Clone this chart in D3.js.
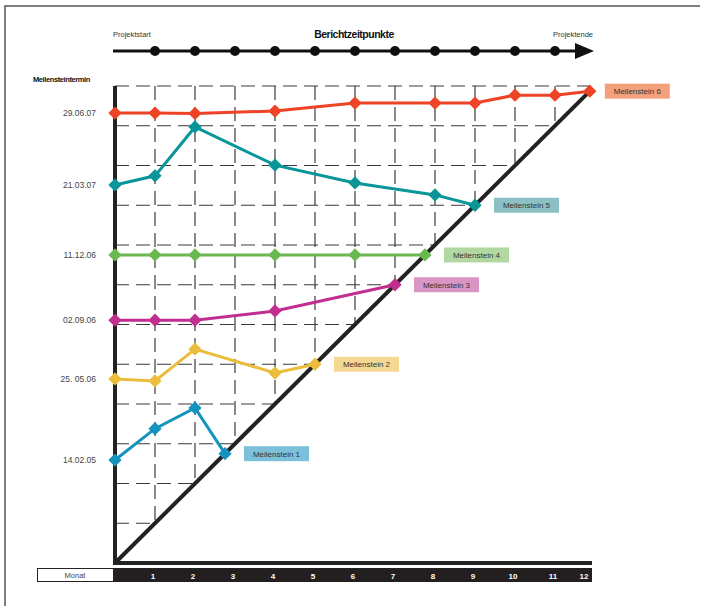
<html>
<head>
<meta charset="utf-8">
<script src="https://d3js.org/d3.v7.min.js"></script>
<style>
body { margin: 0; background: #fff; }
text { font-family: "Liberation Sans", Arial, sans-serif; }
</style>
</head>
<body>
<svg width="704" height="606"></svg>
<script>
// months / Berichtzeitpunkte
var months = [1,2,3,4,5,6,7,8,9,10,11,12];
var reportPoints = [1,2,3,4,5,6,7,8,9,10,11];
// Meilensteintermin tick labels (in grid units)
var yLabels = ["14.02.05","25. 05.06","02.09.06","11.12.06","21.03.07","29.06.07"];
var yLabelValues = [2.59, 4.63, 6.11, 7.75, 9.51, 11.32];

var names = ["Meilenstein 1","Meilenstein 2","Meilenstein 3","Meilenstein 4","Meilenstein 5","Meilenstein 6"];
var ms1Months = [0,1,2,2.75];
var ms1Values = [2.59,3.38,3.9,2.75];
var ms2Months = [0,1,2,4,5];
var ms2Values = [4.63,4.58,5.38,4.78,5.0];
var ms3Months = [0,1,2,4,7];
var ms3Values = [6.11,6.11,6.11,6.34,7.0];
var ms4Months = [0,1,2,4,6,7.75];
var ms4Values = [7.75,7.75,7.75,7.75,7.75,7.75];
var ms5Months = [0,1,2,4,6,8,9];
var ms5Values = [9.51,9.74,10.97,10.01,9.56,9.26,9.0];
var ms6Months = [0,1,2,4,6,8,9,10,11,11.87];
var ms6Values = [11.32,11.32,11.31,11.37,11.57,11.57,11.57,11.77,11.77,11.87];

var lineColors = ["#1494bc","#ebbd3a","#c22e90","#6ab84e","#0a9598","#ee4324"];
var boxColors = ["#7dc0d9","#f5d993","#d996c5","#b2d8a2","#8bc1c4","#f4a07c"];

var seriesMonths = [ms1Months,ms2Months,ms3Months,ms4Months,ms5Months,ms6Months];
var seriesValues = [ms1Values,ms2Values,ms3Values,ms4Values,ms5Values,ms6Values];
var series = names.map(function(n,i){
  return {name:n, pts: seriesMonths[i].map(function(m,j){ return {m:m, v:seriesValues[i][j]}; })};
});

var svg = d3.select("svg");
var x = d3.scaleLinear().domain([0,12]).range([115,595]);
var y = d3.scaleLinear().domain([0,12]).range([563,86]);
var endLevel = 11.87;

// frame (top + left)
svg.append("path").attr("d","M5,606 L5,6 L700,6").attr("fill","none")
   .attr("stroke","#555").attr("stroke-width",1.5);

// header
svg.append("text").attr("x",113).attr("y",37).attr("font-size",7.5).attr("fill","#333").text("Projektstart");
svg.append("text").attr("x",593).attr("y",37).attr("text-anchor","end").attr("font-size",7.5).attr("fill","#333").text("Projektende");
svg.append("text").attr("x",354).attr("y",38).attr("text-anchor","middle").attr("font-size",10.5)
   .attr("font-weight","bold").attr("letter-spacing",-0.5).attr("fill","#111").text("Berichtzeitpunkte");
svg.append("line").attr("x1",113).attr("x2",578).attr("y1",51).attr("y2",51).attr("stroke","#111").attr("stroke-width",3);
svg.append("path").attr("d","M575,43 L594,51 L575,59 Z").attr("fill","#111");
svg.selectAll(".rp").data(reportPoints).enter().append("circle")
   .attr("cx",function(d){return x(d);}).attr("cy",51).attr("r",5).attr("fill","#111");

svg.append("text").attr("x",33).attr("y",82).attr("font-size",7.5).attr("font-weight","bold")
   .attr("letter-spacing",-0.4).attr("fill","#111").text("Meilensteintermin");

// dashed grid in upper-left triangle
var grid = svg.append("g").attr("stroke","#3a3a3a").attr("stroke-width",1.2).attr("stroke-dasharray","14,7").attr("fill","none");
d3.range(1,12).forEach(function(k){
  grid.append("line").attr("x1",x(k)).attr("x2",x(k)).attr("y1",y(12)).attr("y2",y(k));
  grid.append("line").attr("x1",x(0)).attr("x2",x(k)).attr("y1",y(k)).attr("y2",y(k));
});
grid.append("line").attr("x1",x(0)).attr("x2",x(endLevel)).attr("y1",y(12)).attr("y2",y(12));

// axes
svg.append("line").attr("x1",x(0)).attr("x2",x(0)).attr("y1",y(12)).attr("y2",y(0)+2).attr("stroke","#222").attr("stroke-width",4);
svg.append("line").attr("x1",x(0)-2).attr("x2",592).attr("y1",y(0)).attr("y2",y(0)).attr("stroke","#222").attr("stroke-width",4);
svg.append("line").attr("x1",x(0)).attr("y1",y(0)).attr("x2",x(endLevel)).attr("y2",y(endLevel))
   .attr("stroke","#222").attr("stroke-width",4);

// y labels
svg.selectAll(".yl").data(yLabelValues).enter().append("text")
   .attr("x",96).attr("y",function(d){return y(d)+3;}).attr("text-anchor","end")
   .attr("font-size",8.5).attr("fill","#444").text(function(d,i){return yLabels[i];});

// series
var line = d3.line().x(function(d){return x(d.m);}).y(function(d){return y(d.v);});
var diamond = d3.symbol().type(d3.symbolSquare).size(88);
series.forEach(function(s,i){
  var g = svg.append("g");
  g.append("path").datum(s.pts).attr("d",line).attr("fill","none").attr("stroke",lineColors[i]).attr("stroke-width",3);
  g.selectAll("path.pt").data(s.pts).enter().append("path").attr("class","pt")
   .attr("d",diamond).attr("fill",lineColors[i])
   .attr("transform",function(d){return "translate("+x(d.m)+","+y(d.v)+") rotate(45)";});
  var last = s.pts[s.pts.length-1];
  var bx = x(last.m) + (i==5 ? 15 : 19), by = y(last.v);
  g.append("rect").attr("x",bx).attr("y",by-7.5).attr("width",65).attr("height",15).attr("fill",boxColors[i]);
  g.append("text").attr("x",bx+32.5).attr("y",by+3).attr("text-anchor","middle").attr("font-size",8)
   .attr("fill","#333").text(s.name);
});

// month bar
svg.append("rect").attr("x",37.5).attr("y",568.5).attr("width",76).attr("height",13).attr("fill","#fff").attr("stroke","#222").attr("stroke-width",1);
svg.append("text").attr("x",75).attr("y",578).attr("text-anchor","middle").attr("font-size",7.5).attr("fill","#444").text("Monat");
svg.append("rect").attr("x",114).attr("y",568).attr("width",478).attr("height",14).attr("fill","#231f20");
svg.selectAll(".mn").data(months).enter().append("text")
   .attr("x",function(d){return d==12 ? x(d)-11 : x(d)-2;}).attr("y",578.5).attr("text-anchor","middle")
   .attr("font-size",8).attr("font-weight","bold").attr("fill","#fff").text(function(d){return d;});
</script>
</body>
</html>
